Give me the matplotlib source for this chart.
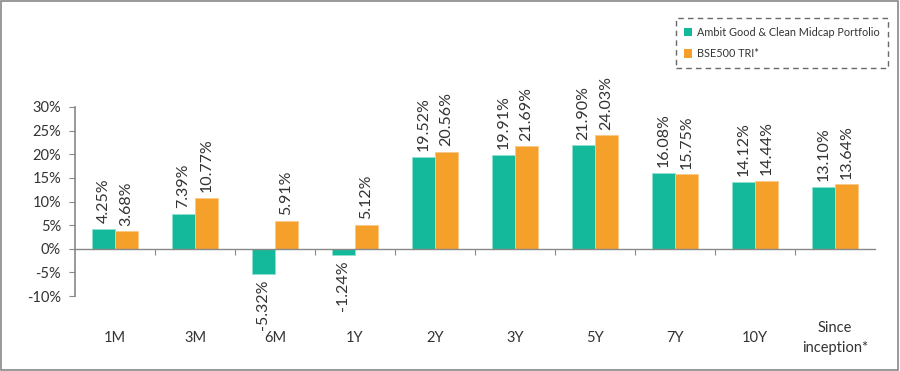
import matplotlib
matplotlib.use("Agg")
import matplotlib.pyplot as plt
from matplotlib.patches import Rectangle, Patch
import matplotlib.transforms as mtransforms
import numpy as np

plt.rcParams['font.family'] = ['Lato', 'DejaVu Sans']

categories = ["1M", "3M", "6M", "1Y", "2Y", "3Y", "5Y", "7Y", "10Y", "Since\ninception*"]
portfolio = [4.25, 7.39, -5.32, -1.24, 19.52, 19.91, 21.90, 16.08, 14.12, 13.10]
benchmark = [3.68, 10.77, 5.91, 5.12, 20.56, 21.69, 24.03, 15.75, 14.44, 13.64]
series_names = ["Ambit Good & Clean Midcap Portfolio", "BSE500 TRI*"]
yticks = [-10, -5, 0, 5, 10, 15, 20, 25, 30]

c_port = "#14B99B"
c_bench = "#F5A02A"
txt = "#333333"

fig = plt.figure(figsize=(9, 3.71), dpi=100)
ax = fig.add_axes([75/900, 1-296/371, 800/900, (296-107)/371])

x = np.arange(len(categories))
w = 0.29
ax.bar(x - w/2, portfolio, w, color=c_port, edgecolor="#8fe0cf", linewidth=0.6)
ax.bar(x + w/2, benchmark, w, color=c_bench, edgecolor="#f8c98a", linewidth=0.6)

for xs, vals in ((x - w/2, portfolio), (x + w/2, benchmark)):
    for xi, v in zip(xs, vals):
        ax.annotate(f"{v:.2f}%", (xi, v), xytext=(0, 4 if v >= 0 else -4), textcoords="offset points",
                    rotation=90, ha="center", va="bottom" if v >= 0 else "top",
                    fontsize=11.5, color=txt)

ax.set_xlim(-0.5, len(categories) - 0.5)
ax.set_ylim(-10, 30)
ax.set_yticks(yticks)
ax.set_yticklabels([f"{t}%" for t in yticks], fontsize=10.5, color=txt)
ax.tick_params(axis="y", length=4, color="#888888", pad=6)

for s in ["top", "right"]:
    ax.spines[s].set_visible(False)
ax.spines["left"].set_color("#888888")
ax.spines["left"].set_linewidth(1.2)
ax.spines["bottom"].set_position(("data", 0))
ax.spines["bottom"].set_color("#888888")
ax.spines["bottom"].set_linewidth(1.0)
ax.set_xticks(np.arange(0.5, len(categories) - 0.5, 1.0))
ax.set_xticklabels([])
ax.tick_params(axis="x", length=4, color="#888888", direction="out")

trans = mtransforms.blended_transform_factory(ax.transData, fig.transFigure)
for xi, c in zip(x, categories):
    ax.text(xi, 1 - 338/371, c, transform=trans, ha="center", va="center",
            fontsize=10.5, color=txt, linespacing=1.55)

handles = [Patch(facecolor=c_port, edgecolor="none"), Patch(facecolor=c_bench, edgecolor="none")]
leg = fig.legend(handles, series_names, loc="upper right", bbox_to_anchor=(893/900, 1 - 13/371),
                 fontsize=7.8, frameon=True, handlelength=0.8, handleheight=0.8,
                 handletextpad=0.4, labelspacing=1.0, borderpad=0.75, fancybox=False)
leg.get_frame().set_linestyle((0, (4, 3)))
leg.get_frame().set_edgecolor("#444444")
leg.get_frame().set_linewidth(1.0)
for t in leg.get_texts():
    t.set_color(txt)

fig.patches.append(Rectangle((0.001, 0.002), 0.997, 0.996, transform=fig.transFigure,
                             fill=False, edgecolor="#888888", linewidth=1.2))

fig.savefig("out.png", dpi=100, facecolor="white")
